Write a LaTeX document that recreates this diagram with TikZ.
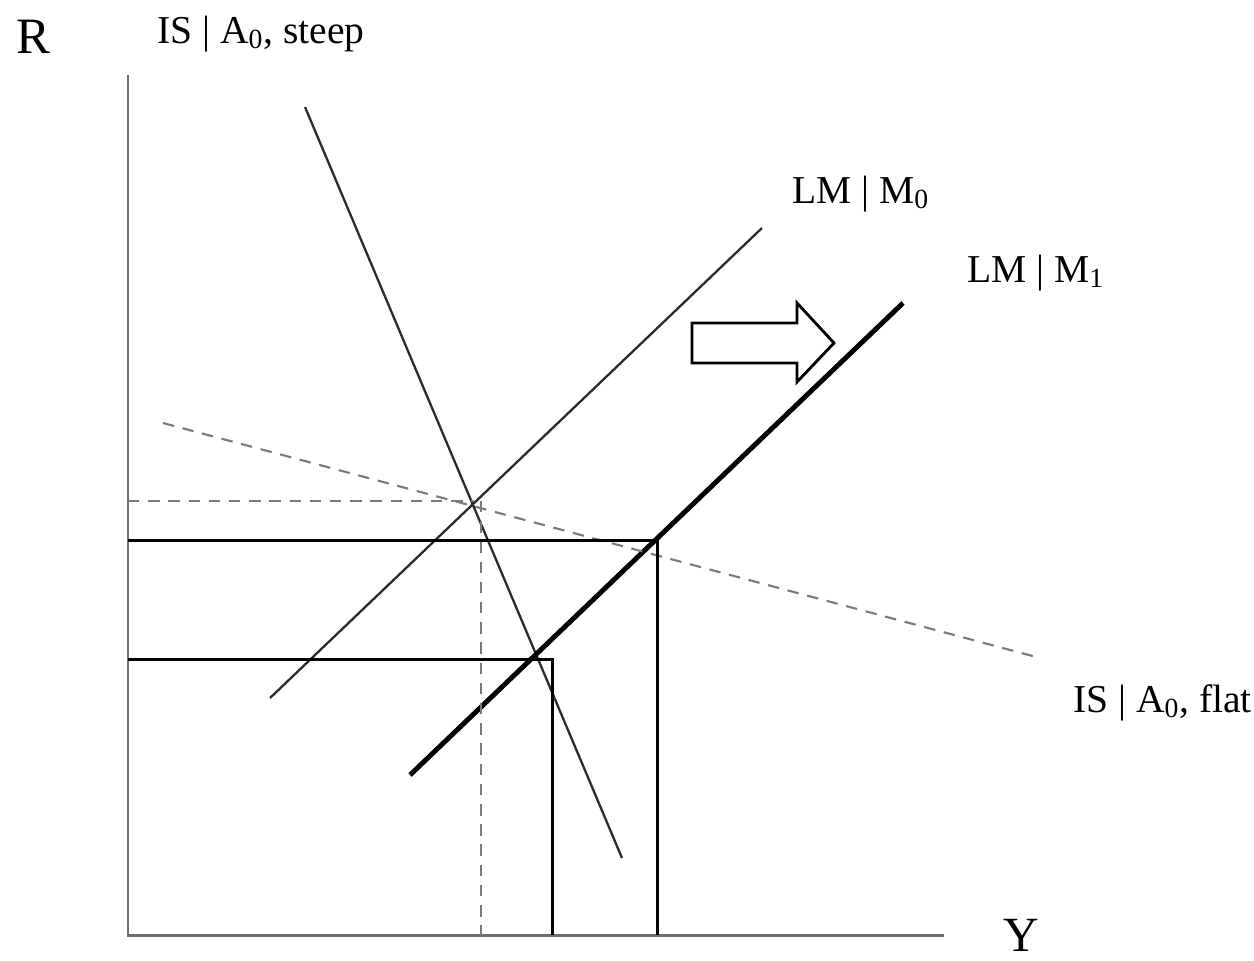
\documentclass[tikz,border=0pt]{standalone}
\usepackage{fontspec}
\setmainfont{Liberation Serif}
\usetikzlibrary{positioning}
\definecolor{axis}{HTML}{6E6E6E}
\definecolor{curve}{HTML}{2A2A2A}
\definecolor{guide}{HTML}{7A7A7A}

\begin{document}
\begin{tikzpicture}[x=.02cm,y=-.02cm,
  lbl/.style={font=\fontsize{22.5}{26}\selectfont,anchor=base west,inner sep=0pt},
  gdash/.style={guide,line width=1.2pt,dash pattern=on 6.5pt off 5pt}]
  \useasboundingbox (0,0) rectangle (1254,960);
  % axes
  \coordinate (top) at (128,75);
  \coordinate (orig) at (128,935);
  \coordinate (right) at (944,935);
  \draw[axis,line width=1.7pt] (top) -- (orig) -- (right);
  \node[font=\fontsize{29}{34}\selectfont,inner sep=0pt] (rlab) at (33,37){R};
  \node[font=\fontsize{28}{32}\selectfont,inner sep=0pt,anchor=north] (ylab) at (1021,919){Y};
  % curves
  \coordinate (ss) at (305,107);
  \coordinate (se) at (622,858);
  \coordinate (ms) at (270,698);
  \coordinate (me) at (762,228);
  \coordinate (ns) at (410,775);
  \coordinate (ne) at (903,303);
  \coordinate (fs) at (163,423);
  \coordinate (fe) at (1040,658);
  \draw[curve,line width=1.3pt] (ss) -- (se);
  \draw[curve,line width=1.3pt] (ms) -- (me);
  \draw[black,line width=2.8pt] (ns) -- (ne);
  \draw[gdash] (fs) -- (fe);
  \node[lbl] (steep) at (157,43){IS | A\textsubscript{0}, steep};
  \node[lbl] (lm0) at (792,203){LM | M\textsubscript{0}};
  \node[lbl] (lm1) at (967,282){LM | M\textsubscript{1}};
  \node[lbl] (flat) at (1073,712){IS | A\textsubscript{0}, flat};
  % equilibria
  \coordinate (e0) at (474,501);
  \coordinate (e1) at (657,540);
  \coordinate (e2) at (552,659);
  \draw[gdash] (orig |- e0) -- (e0);
  \draw[gdash] (481,501) -- (481,935);
  \draw[black,line width=1.7pt] (orig |- e1) -- (e1) -- (e1 |- orig);
  \draw[black,line width=1.7pt] (orig |- e2) -- (e2) -- (e2 |- orig);
  % shift arrow
  \draw[black,line width=1.6pt] (692,323) -- (797,323) -- (797,303) -- (834,343)
    -- (797,382) -- (797,363) -- (692,363) -- cycle;
\end{tikzpicture}
\end{document}
